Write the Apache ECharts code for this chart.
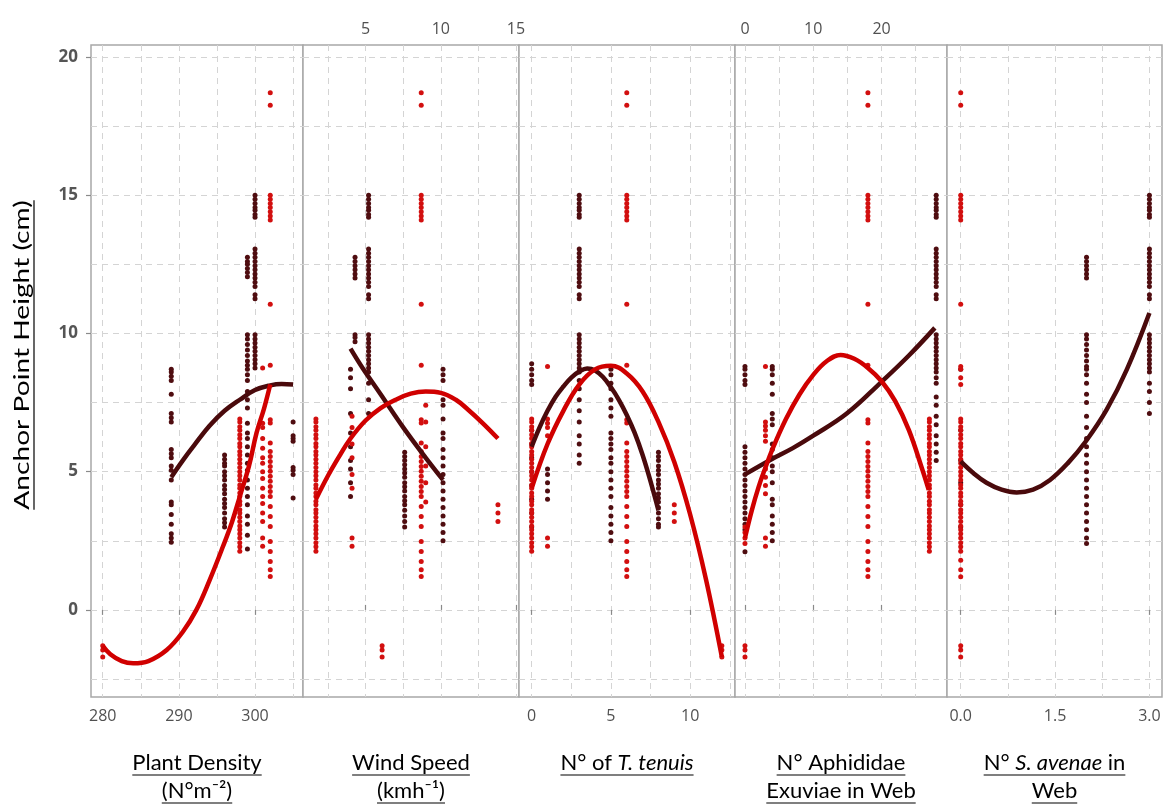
<!DOCTYPE html>
<html><head><meta charset="utf-8">
<script src="https://cdn.jsdelivr.net/npm/echarts@6/dist/echarts.min.js"></script>
<style>html,body{margin:0;padding:0;background:#fff}#c{width:1168px;height:805px}</style>
</head><body><div id="c"></div>
<script>
// ---------- tick labels / grid positions ----------
const yTicks = [0, 5, 10, 15, 20];
const yGridVals = [-2.5, 0, 2.5, 5, 7.5, 10, 12.5, 15, 17.5, 20];
const densityTicks = [280, 290, 300];
const densityGridVals = [280, 285, 290, 295, 300, 305];
const windTicks = [5, 10, 15];
const windGridVals = [2.5, 5, 7.5, 10, 12.5, 15];
const tenuisTicks = [0, 5, 10];
const tenuisGridVals = [0, 2.5, 5, 7.5, 10, 12.5];
const exuviaeTicks = [0, 10, 20];
const exuviaeGridVals = [0, 5, 10, 15, 20, 25];
const avenaeTicks = [0, 1.5, 3];
const avenaeGridVals = [0, 0.75, 1.5, 2.25, 3];

// ---------- axis titles ----------
const xTitles = [
  ['Plant Density', '(N°m⁻²)'],
  ['Wind Speed', '(kmh⁻¹)'],
  ['N° of {i|T. tenuis}'],
  ['N° Aphididae', 'Exuviae in Web'],
  ['N° {i|S. avenae} in', 'Web']
];
const yTitle = 'Anchor Point Height (cm)';

// ---------- shared y-value groups ----------
const redHigh = [18.7, 18.25, 15.0, 14.85, 14.7, 14.55, 14.4, 14.25, 14.1, 11.05];
const redDenseA = [6.9, 6.8, 6.62, 6.5, 6.33, 6.2, 6.02, 5.9, 5.73, 5.6, 5.45, 5.3, 5.15, 5.0, 4.85, 4.7, 4.52, 4.4, 4.23, 4.1, 3.93, 3.8, 3.62, 3.5, 3.35, 3.2, 3.03, 2.9, 2.75, 2.6, 2.43, 2.28, 2.12];
const redDenseB = [8.85, 6.88, 6.76, 6.04, 5.73, 5.55, 5.37, 5.19, 5.01, 4.83, 4.65, 4.46, 4.28, 4.1, 3.74, 3.38, 3.02, 2.47, 2.11, 1.75, 1.45, 1.21];
const redNeg = [-1.3, -1.45, -1.7];
const darkHigh = [15.0, 14.85, 14.7, 14.55, 14.45, 14.3, 14.2, 13.05, 12.9, 12.75, 12.6, 12.45, 12.3, 12.15, 12.0, 11.85, 11.7, 11.4, 11.25, 9.95, 9.8, 9.65, 9.5, 9.35, 9.2, 9.05, 8.9, 8.75];

// ---------- Plant density ----------
const densityDark = [
  [289, [8.7, 8.6, 8.45, 8.3, 7.8, 7.1, 6.95, 6.8, 5.8, 5.65, 5.5, 5.2, 5.05, 4.7, 3.9, 3.8, 3.45, 3.1, 2.75, 2.6, 2.45]],
  [296, [5.6, 5.45, 5.3, 5.2, 5.0, 4.85, 4.7, 4.5, 4.35, 4.2, 4.0, 3.85, 3.7, 3.5, 3.3, 3.15, 3.0]],
  [299, [12.75, 12.6, 12.5, 12.35, 12.2, 12.05, 9.95, 9.8, 9.6, 9.4, 9.2, 9.0, 8.85, 8.7, 8.5, 8.3, 7.9, 7.6, 7.3, 6.75, 6.4, 6.2, 5.9, 5.6, 5.3, 5.05, 4.7, 4.4, 4.1, 3.8, 3.4, 3.1, 2.7, 2.2]],
  [300, darkHigh],
  [305, [6.8, 6.3, 6.2, 6.1, 5.15, 5.05, 4.9, 4.05]]
];
const densityRed = [
  [280, redNeg],
  [298, redDenseA],
  [301, [8.75, 6.75, 6.6, 6.2, 5.85, 5.5, 5.3, 5.0, 4.75, 4.4, 4.1, 3.85, 3.5, 3.2, 2.6, 2.3]],
  [302, redHigh.concat(redDenseB)]
];
const densityDarkFit = [[289, 4.8], [290.5, 5.4], [292, 5.95], [294, 6.65], [296, 7.2], [298, 7.6], [300, 7.95], [302, 8.12], [303.5, 8.17], [305, 8.15]];
const densityRedFit = [[280, -1.3], [281, -1.6], [282.5, -1.85], [284, -1.93], [286, -1.85], [288.4, -1.45], [290.5, -0.8], [292.3, 0.0], [294, 1.05], [295.8, 2.3], [297, 3.2], [298, 4.1], [299.2, 5.2], [300.2, 6.4], [301.2, 7.3], [302, 8.15]];

// ---------- Wind speed ----------
const windDark = [
  [4.0, [8.7, 8.4, 8.0, 7.1, 6.4, 5.9, 5.4, 5.1, 4.6, 4.1]],
  [4.3, [12.75, 12.6, 12.45, 12.3, 12.15, 12.0, 9.95, 9.85, 9.7]],
  [5.2, darkHigh.concat([8.6, 8.2, 7.6, 7.1])],
  [7.6, [5.7, 5.55, 5.4, 5.25, 5.1, 4.95, 4.8, 4.6, 4.45, 4.3, 4.1, 3.95, 3.8, 3.6, 3.4, 3.2, 3.0]],
  [10.15, [8.7, 8.5, 8.3, 7.6, 7.4, 6.9, 6.4, 6.2, 5.8, 5.5, 5.2, 4.9, 4.6, 4.3, 4.0, 3.7, 3.4, 3.1, 2.8, 2.5]]
];
const windRed = [
  [1.7, redDenseA],
  [4.1, [7.0, 6.6, 6.0, 5.5, 4.9, 4.4, 2.6, 2.3]],
  [6.1, redNeg],
  [8.7, redHigh.concat(redDenseB)],
  [9.0, [7.4, 6.8, 5.9, 5.2, 4.6, 3.9]],
  [13.8, [3.8, 3.5, 3.2]]
];
const windDarkFit = [[4.0, 9.45], [4.8, 8.75], [6.0, 7.8], [7.5, 6.6], [9.0, 5.5], [10.15, 4.7]];
const windRedFit = [[1.7, 4.0], [2.5, 4.85], [3.3, 5.6], [4.0, 6.2], [5.0, 6.85], [6.0, 7.3], [7.0, 7.6], [8.0, 7.82], [9.0, 7.9], [10.0, 7.85], [11.0, 7.6], [11.8, 7.25], [12.8, 6.75], [13.8, 6.2]];

// ---------- N° of T. tenuis ----------
const tenuisDark = [
  [0, [8.9, 8.7, 8.5, 8.3, 8.15, 6.5, 6.0, 5.5, 5.0, 4.5, 4.0, 3.5, 3.0]],
  [1, [5.1, 4.9, 4.6, 4.3, 4.0]],
  [3, darkHigh.concat([8.6, 8.3, 8.0, 7.6, 7.2, 6.8, 6.3, 6.0, 5.6, 5.3])],
  [5, [8.7, 8.5, 8.2, 8.0, 7.6, 7.3, 7.0, 6.4, 6.2, 6.0, 5.8, 5.5, 5.3, 5.0, 4.7, 4.4, 4.1, 3.7, 3.4, 3.1, 2.8, 2.5]],
  [8, [5.7, 5.55, 5.4, 5.2, 5.05, 4.9, 4.7, 4.55, 4.4, 4.2, 4.05, 3.9, 3.7, 3.5, 3.3, 3.1, 3.0]]
];
const tenuisRed = [
  [0, redDenseA],
  [1, [8.8, 6.9, 6.75, 6.6, 6.3, 2.6, 2.3]],
  [6, redHigh.concat(redDenseB)],
  [9, [3.8, 3.5, 3.2]],
  [12, redNeg]
];
const tenuisDarkFit = [[0, 5.9], [0.5, 6.6], [1, 7.2], [1.5, 7.7], [2, 8.08], [2.5, 8.4], [3, 8.62], [3.5, 8.73], [4, 8.66], [4.5, 8.42], [5, 8.05], [5.5, 7.6], [6, 7.05], [6.5, 6.4], [7, 5.6], [7.5, 4.65], [8, 3.6]];
const tenuisRedFit = [[0, 4.4], [1, 6.0], [2, 7.2], [3, 8.15], [4, 8.7], [5, 8.83], [6, 8.55], [7, 7.9], [8, 6.8], [9, 5.35], [10, 3.45], [11, 1.1], [12, -1.7]];

// ---------- N° Aphididae exuviae ----------
const exuviaeDark = [
  [0, [8.8, 8.7, 8.5, 8.3, 8.15, 5.9, 5.7, 5.5, 5.3, 5.1, 4.9, 4.7, 4.5, 4.3, 4.1, 3.9, 3.7, 3.5, 3.3, 3.1, 2.9, 2.1]],
  [4, [8.8, 8.7, 8.5, 8.2, 7.8, 7.1, 6.9, 6.7, 6.0, 5.8, 5.5, 5.2, 5.0, 4.6, 4.0, 3.8, 3.4, 3.1, 2.8, 2.5]],
  [28, darkHigh.concat([8.6, 8.4, 8.2, 7.7, 7.4, 7.0, 6.7, 6.3, 6.0, 5.7, 5.4])]
];
const exuviaeRed = [
  [0, [3.0, 2.8, 2.6, 2.4].concat(redNeg)],
  [3, [8.8, 6.8, 6.65, 6.5, 6.3, 6.1, 5.1, 4.8, 4.5, 4.2, 2.6, 2.3]],
  [18, redHigh.concat(redDenseB)],
  [27, redDenseA]
];
const exuviaeDarkFit = [[0, 4.9], [3.9, 5.45], [7, 5.85], [10, 6.3], [14.9, 7.1], [20, 8.25], [24, 9.2], [27.8, 10.2]];
const exuviaeRedFit = [[0, 2.6], [1, 3.6], [2, 4.45], [3, 5.15], [4, 5.8], [6, 6.9], [8, 7.8], [10, 8.5], [12, 9.0], [14, 9.22], [16, 9.08], [18, 8.75], [20, 8.27], [22, 7.55], [24, 6.5], [26, 5.05], [26.9, 4.34]];

// ---------- N° S. avenae ----------
const avenaeDark = [
  [0, [8.7, 6.5, 5.4, 4.6, 3.8, 3.0]],
  [2, [12.75, 12.6, 12.45, 12.3, 12.15, 12.0, 9.95, 9.8, 9.6, 9.4, 9.2, 9.0, 8.8, 8.7, 8.5, 8.2, 7.8, 7.5, 7.0, 6.6, 6.2, 5.9, 5.6, 5.3, 5.0, 4.7, 4.4, 4.1, 3.8, 3.5, 3.2, 2.9, 2.6, 2.4]],
  [3, darkHigh.concat([8.6, 8.2, 7.9, 7.5, 7.1])]
];
const avenaeRed = [
  [0, redHigh.concat([8.8, 8.7, 8.4, 8.15], redDenseA, [1.8, 1.45, 1.2], redNeg)]
];
const avenaeDarkFit = [[0, 5.37], [0.2, 4.95], [0.41, 4.6], [0.65, 4.35], [0.89, 4.25], [1.15, 4.35], [1.42, 4.7], [1.7, 5.3], [1.99, 6.1], [2.32, 7.24], [2.64, 8.69], [3.0, 10.74]];
const avenaeRedFit = [];

// ---------- build chart ----------
const DARK = '#4a0a0c', RED = '#d00000';
const DARK_PT = '#4f0d10', RED_PT = '#d20f0f';
const GRID_LINE = { color: '#d4d4d4', width: 1, type: [6, 5] };
const TICK_FONT = { color: '#505050', fontSize: 16, fontFamily: 'Open Sans' };
const yMin = -3.15, yMax = 20.43;

const panels = [
  { left: 91, width: 212, min: 278.46, max: 306.3, pos: 'bottom', ticks: densityTicks, gv: densityGridVals, dark: densityDark, red: densityRed, df: densityDarkFit, rf: densityRedFit, fmt: v => String(v) },
  { left: 303, width: 216, min: 0.84, max: 15.2, pos: 'top', ticks: windTicks, gv: windGridVals, dark: windDark, red: windRed, df: windDarkFit, rf: windRedFit, fmt: v => String(v) },
  { left: 519, width: 216, min: -0.8, max: 12.83, pos: 'bottom', ticks: tenuisTicks, gv: tenuisGridVals, dark: tenuisDark, red: tenuisRed, df: tenuisDarkFit, rf: tenuisRedFit, fmt: v => String(v) },
  { left: 735, width: 212, min: -1.46, max: 29.58, pos: 'top', ticks: exuviaeTicks, gv: exuviaeGridVals, dark: exuviaeDark, red: exuviaeRed, df: exuviaeDarkFit, rf: exuviaeRedFit, fmt: v => String(v) },
  { left: 947, width: 215, min: -0.218, max: 3.2, pos: 'bottom', ticks: avenaeTicks, gv: avenaeGridVals, dark: avenaeDark, red: avenaeRed, df: avenaeDarkFit, rf: avenaeRedFit, fmt: v => v.toFixed(1) }
];

function flatten(cols) {
  const out = [];
  cols.forEach(([x, ys]) => ys.forEach(y => out.push([x, y])));
  return out;
}

const grid = [], xAxis = [], yAxis = [], series = [];
panels.forEach((p, i) => {
  grid.push({ left: p.left, top: 45, width: p.width, height: 652, show: true, borderColor: '#a8a8a8', borderWidth: 1.5, backgroundColor: '#fff' });
  xAxis.push({
    gridIndex: i, type: 'value', min: p.min, max: p.max, position: p.pos,
    axisLine: { show: false },
    axisTick: { show: true, customValues: p.ticks, length: 5, lineStyle: { color: '#8a8a8a', width: 1.2 } },
    axisLabel: { customValues: p.ticks, formatter: p.fmt, margin: p.pos === 'bottom' ? 11 : 8, ...TICK_FONT },
    splitLine: { show: false }
  });
  xAxis.push({
    gridIndex: i, type: 'value', min: p.min, max: p.max, position: p.pos,
    axisLine: { show: false },
    axisTick: { show: false, customValues: p.gv },
    axisLabel: { show: false },
    splitLine: { show: true, lineStyle: GRID_LINE }
  });
  yAxis.push({
    gridIndex: i, type: 'value', min: yMin, max: yMax, position: 'left',
    axisLine: { show: false },
    axisTick: { show: i === 0, customValues: yTicks, length: 5, lineStyle: { color: '#8a8a8a', width: 1.2 } },
    axisLabel: { show: i === 0, customValues: yTicks, margin: 13, color: '#555', fontSize: 17, fontWeight: 'bold', fontFamily: 'Open Sans' },
    splitLine: { show: false }
  });
  yAxis.push({
    gridIndex: i, type: 'value', min: yMin, max: yMax, position: 'right',
    axisLine: { show: false },
    axisTick: { show: false, customValues: yGridVals },
    axisLabel: { show: false },
    splitLine: { show: true, lineStyle: GRID_LINE }
  });
  const xi = 2 * i, yi = 2 * i;
  series.push({ type: 'scatter', xAxisIndex: xi, yAxisIndex: yi, data: flatten(p.dark), symbolSize: 5, itemStyle: { color: DARK_PT, opacity: 1 }, silent: true, z: 2 });
  series.push({ type: 'scatter', xAxisIndex: xi, yAxisIndex: yi, data: flatten(p.red), symbolSize: 5, itemStyle: { color: RED_PT, opacity: 1 }, silent: true, z: 2 });
  if (p.df.length) series.push({ type: 'line', xAxisIndex: xi, yAxisIndex: yi, data: p.df, smooth: 0.4, showSymbol: false, lineStyle: { color: DARK, width: 4.5 }, silent: true, z: 3 });
  if (p.rf.length) series.push({ type: 'line', xAxisIndex: xi, yAxisIndex: yi, data: p.rf, smooth: 0.4, showSymbol: false, lineStyle: { color: RED, width: 4.5 }, silent: true, z: 4 });
});

// ---------- titles (underlined) ----------
const TITLE_FONT = 'Lato';
const TITLE_SIZE = 22;
const mctx = document.createElement('canvas').getContext('2d');
function measure(str, size) {
  let w = 0;
  const parts = str.split(/(\{i\|[^}]*\})/);
  parts.forEach(s => {
    const m = s.match(/^\{i\|([^}]*)\}$/);
    if (m) { mctx.font = 'italic ' + size + 'px ' + TITLE_FONT; w += mctx.measureText(m[1]).width; }
    else if (s) { mctx.font = size + 'px ' + TITLE_FONT; w += mctx.measureText(s).width; }
  });
  return w;
}
const graphics = [];
xTitles.forEach((lines, i) => {
  const p = panels[i];
  const cx = p.left + p.width / 2;
  lines.forEach((t, k) => {
    const cy = 763 + k * 28;
    const w = measure(t, TITLE_SIZE);
    graphics.push({ type: 'text', x: cx, y: cy, silent: true, style: { text: t, fill: '#000', font: TITLE_SIZE + 'px ' + TITLE_FONT, textAlign: 'center', textVerticalAlign: 'middle', rich: { i: { fontStyle: 'italic', fontSize: TITLE_SIZE, fontFamily: TITLE_FONT, fill: '#000' } } } });
    graphics.push({ type: 'line', silent: true, shape: { x1: cx - w / 2, y1: cy + 12, x2: cx + w / 2, y2: cy + 12 }, style: { stroke: '#000', lineWidth: 1.2 } });
  });
});
const ySize = 22;
const yw = measure(yTitle, ySize);
graphics.push({
  type: 'group', x: 22, y: 355, rotation: Math.PI / 2, scaleX: 1.28, silent: true,
  children: [
    { type: 'text', x: 0, y: 0, style: { text: yTitle, fill: '#000', font: ySize + 'px ' + TITLE_FONT, textAlign: 'center', textVerticalAlign: 'middle' } },
    { type: 'line', shape: { x1: -yw / 2, y1: 12, x2: yw / 2, y2: 12 }, style: { stroke: '#000', lineWidth: 1.2 } }
  ]
});

const chart = echarts.init(document.getElementById('c'), null, { renderer: 'canvas' });
chart.setOption({ animation: false, backgroundColor: '#fff', grid, xAxis, yAxis, series, graphic: graphics });
</script></body></html>
